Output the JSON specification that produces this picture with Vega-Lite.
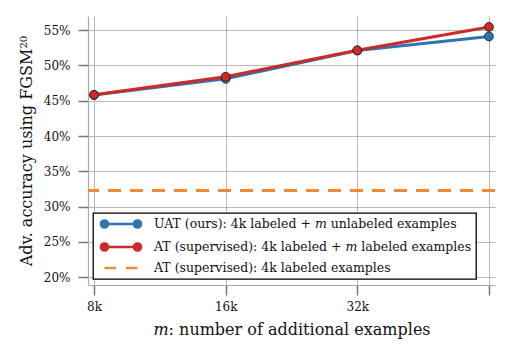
{
  "$schema": "https://vega.github.io/schema/vega-lite/v6.json",
  "width": 407,
  "height": 269,
  "autosize": "none",
  "padding": {"left": 88, "top": 16, "right": 17, "bottom": 67},
  "background": "white",
  "config": {
    "view": {"stroke": null},
    "font": "DejaVu Serif",
    "axis": {
      "labelFont": "DejaVu Serif",
      "labelFontSize": 12,
      "labelColor": "#111",
      "titleFont": "DejaVu Serif",
      "titleFontSize": 16,
      "titleFontWeight": "normal",
      "titleColor": "#111",
      "gridColor": "#b0b0b0",
      "gridWidth": 0.9,
      "domainColor": "#aaaaaa",
      "domainWidth": 1.2,
      "tickColor": "#777777",
      "tickWidth": 1.5,
      "tickSize": 10
    }
  },
  "data": {
    "values": [
      {"series": "UAT (ours): 4k labeled + 𝑚 unlabeled examples", "m": 8000, "acc": 45.8},
      {"series": "UAT (ours): 4k labeled + 𝑚 unlabeled examples", "m": 16000, "acc": 48.1},
      {"series": "UAT (ours): 4k labeled + 𝑚 unlabeled examples", "m": 32000, "acc": 52.1},
      {"series": "UAT (ours): 4k labeled + 𝑚 unlabeled examples", "m": 64000, "acc": 54.1},
      {"series": "AT (supervised): 4k labeled + 𝑚 labeled examples", "m": 8000, "acc": 45.85},
      {"series": "AT (supervised): 4k labeled + 𝑚 labeled examples", "m": 16000, "acc": 48.4},
      {"series": "AT (supervised): 4k labeled + 𝑚 labeled examples", "m": 32000, "acc": 52.15},
      {"series": "AT (supervised): 4k labeled + 𝑚 labeled examples", "m": 64000, "acc": 55.45},
      {"series": "AT (supervised): 4k labeled examples", "m": null, "acc": 32.3}
    ]
  },
  "encoding": {
    "y": {
      "field": "acc",
      "type": "quantitative",
      "scale": {"domain": [18.9, 57.0], "nice": false, "zero": false},
      "axis": {
        "values": [20, 25, 30, 35, 40, 45, 50, 55],
        "labelExpr": "datum.value + '%'",
        "labelPadding": 8,
        "title": "Adv. accuracy using FGSM²⁰",
        "titlePadding": 9
      }
    },
    "color": {
      "field": "series",
      "type": "nominal",
      "scale": {
        "domain": [
          "UAT (ours): 4k labeled + 𝑚 unlabeled examples",
          "AT (supervised): 4k labeled + 𝑚 labeled examples",
          "AT (supervised): 4k labeled examples"
        ],
        "range": ["#2f73b0", "#cc2b29", "#f28a32"]
      },
      "legend": {
        "orient": "none",
        "legendX": 5,
        "legendY": 197,
        "title": null,
        "padding": 4,
        "cornerRadius": 0,
        "fillColor": "white",
        "strokeColor": "black",
        "labelFont": "DejaVu Serif",
        "labelFontSize": 12.5,
        "labelColor": "#111",
        "labelLimit": 0,
        "symbolSize": 121,
        "symbolOffset": 17,
        "labelOffset": 26,
        "rowPadding": 5,
        "symbolStrokeWidth": 2.5,
        "encode": {
          "legend": {"update": {"strokeWidth": {"value": 1.3}}},
          "symbols": {
            "update": {
              "shape": {"signal": "datum.value === 'AT (supervised): 4k labeled examples' ? 'M-3,0H-0.9M0.9,0H3' : 'M-3,0H3M-3.65,0A0.65,0.65 0 1,0 -2.35,0A0.65,0.65 0 1,0 -3.65,0M2.35,0A0.65,0.65 0 1,0 3.65,0A0.65,0.65 0 1,0 2.35,0'"},
              "stroke": {"scale": "color", "field": "value"},
              "fill": {"signal": "datum.value === 'AT (supervised): 4k labeled examples' ? 'transparent' : scale('color', datum.value)"},
              "strokeWidth": {"value": 2.5},
              "opacity": {"value": 1}
            }
          }
        }
      }
    }
  },
  "layer": [
    {
      "transform": [{"filter": "datum.m == null"}],
      "mark": {"type": "rule", "strokeWidth": 3, "strokeDash": [13, 9]},
      "encoding": {}
    },
    {
      "transform": [{"filter": "datum.m != null"}],
      "mark": {"type": "line", "strokeWidth": 3},
      "encoding": {
        "x": {
          "field": "m",
          "type": "quantitative",
          "scale": {"type": "log", "base": 2, "domain": [7750, 66070], "nice": false},
          "axis": {
            "values": [8000, 16000, 32000, 64000],
            "labelExpr": "datum.value >= 64000 ? '' : (datum.value / 1000) + 'k'",
            "labelPadding": 6,
            "title": "𝑚: number of additional examples",
            "titlePadding": 9
          }
        }
      }
    },
    {
      "transform": [{"filter": "datum.m != null"}],
      "mark": {"type": "point", "filled": true, "size": 78, "stroke": "#222", "strokeWidth": 0.9, "opacity": 1},
      "encoding": {
        "x": {"field": "m", "type": "quantitative"}
      }
    }
  ]
}
